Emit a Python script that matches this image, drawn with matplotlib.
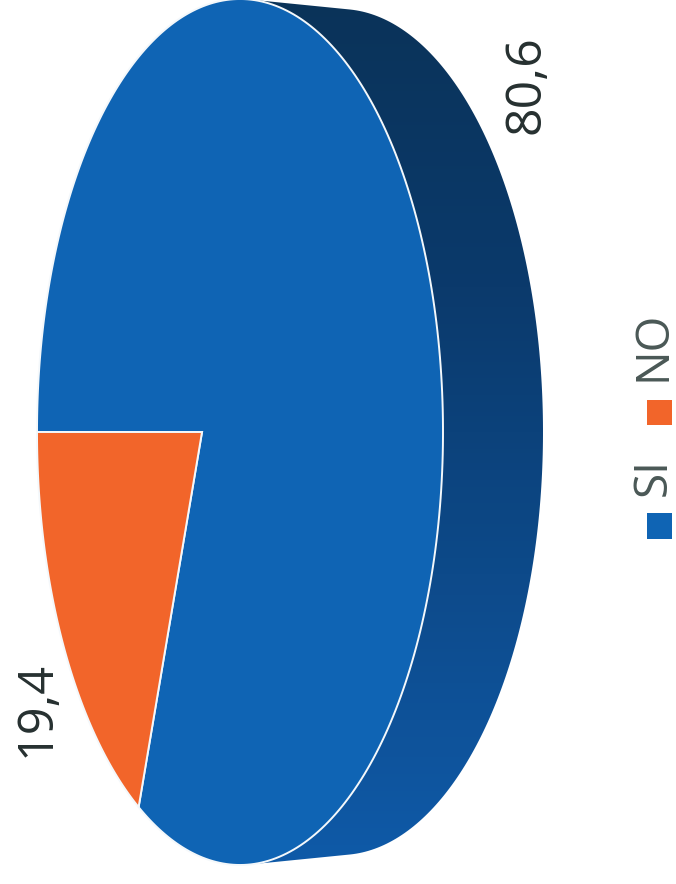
import numpy as np
import matplotlib
matplotlib.use("Agg")
import matplotlib.pyplot as plt
from matplotlib.colors import LinearSegmentedColormap
from matplotlib.patches import Polygon, Rectangle

labels = ["SI", "NO"]
values = [80.6, 19.4]
colors = ["#0f64b4", "#f2652a"]

plt.rcParams["font.family"] = ["Open Sans", "DejaVu Sans"]

CX, CY = 240.0, 432.0   # centre of the top face
A, B = 203.0, 433.0     # half width / half height of the top face
APEX = -0.187           # perspective shift of the pie centre
TEXT_COLOR = "#263030"
LEGEND_COLOR = "#4a5856"


def project(angle):
    """Map angles on the unit circle to the tilted top face (perspective)."""
    x, y = np.cos(angle), np.sin(angle)
    den = 1 + APEX * x
    u = (x + APEX) / den
    v = y * np.sqrt(1 - APEX ** 2) / den
    return CX + A * u, CY + B * v


def slice_points(start, sweep):
    angles = np.linspace(start, start + sweep, 300)
    x, y = project(angles)
    # the first point is the apex of the slice
    return np.column_stack([np.r_[CX + A * APEX, x], np.r_[CY, y]])


fig = plt.figure(figsize=(6.76, 8.84), dpi=100)
ax = fig.add_axes([0, 0, 1, 1])

# side of the disc, dark at the top and lighter at the bottom
t = np.linspace(-np.pi / 2 + 0.05, np.pi / 2 - 0.05, 200)
outer = np.column_stack([340 + 203 * np.cos(t), 432 + 423 * np.sin(t)])
inner = np.column_stack([CX + A * np.cos(t[::-1]), CY + B * np.sin(t[::-1])])
side = Polygon(np.vstack([outer, inner]), closed=True, fc="none", ec="none")
ax.add_patch(side)
cmap = LinearSegmentedColormap.from_list(
    "side", ["#0a3359", "#0b3a6c", "#0d4a8a", "#0f5aa8"])
grad = ax.imshow(np.linspace(0, 1, 256)[:, None], cmap=cmap, aspect="auto",
                 extent=[0, 676, 865, 0], zorder=1)
grad.set_clip_path(side)

ax.set_xlim(0, 676)
ax.set_ylim(884, 0)
ax.axis("off")

# top face: slices go round from the left edge, one each way
total = sum(values)
si_sweep = 2 * np.pi * values[0] / total
no_sweep = 2 * np.pi * values[1] / total
ax.add_patch(Polygon(slice_points(np.pi, si_sweep), closed=True,
                     fc=colors[0], ec="#f4f8fb", lw=1.4, zorder=2))
ax.add_patch(Polygon(slice_points(np.pi - no_sweep, no_sweep), closed=True,
                     fc=colors[1], ec="#f4f8fb", lw=1.4, zorder=2))

# value labels
ax.text(527, 85, f"{values[0]}".replace(".", ","), rotation=90, ha="center", va="center",
        fontsize=36, color=TEXT_COLOR)
ax.text(37, 709, f"{values[1]}".replace(".", ","), rotation=90, ha="center", va="center",
        fontsize=35, color=TEXT_COLOR)

# legend, turned with the rest of the page
ax.add_patch(Rectangle((647, 513), 25, 26, fc=colors[0], ec="none"))
ax.text(654, 477, labels[0], rotation=90, ha="center", va="center", fontsize=33, color=LEGEND_COLOR)
ax.add_patch(Rectangle((647, 400), 25, 25, fc=colors[1], ec="none"))
ax.text(654, 346, labels[1], rotation=90, ha="center", va="center", fontsize=33, color=LEGEND_COLOR)

fig.savefig("out.png", dpi=100)
